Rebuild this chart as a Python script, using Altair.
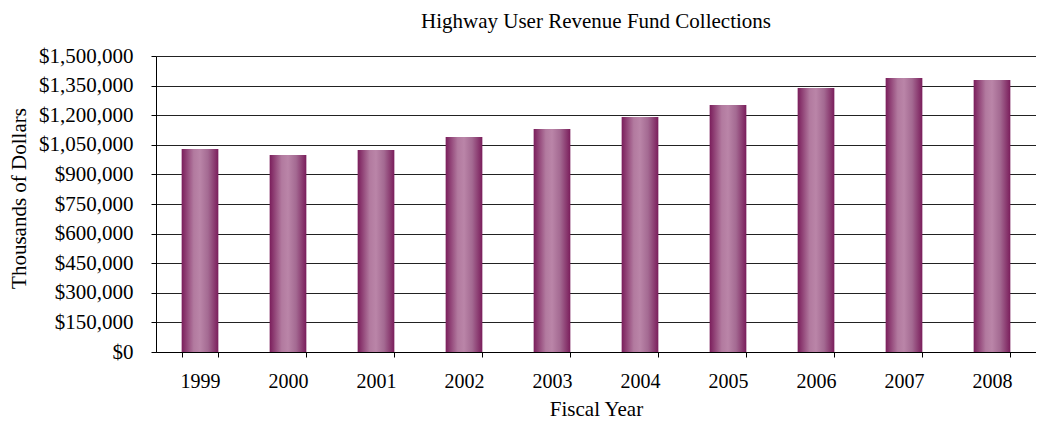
import altair as alt
import pandas as pd

years = ["1999", "2000", "2001", "2002", "2003", "2004", "2005", "2006", "2007", "2008"]
collections = [1029000, 998000, 1024000, 1090000, 1130000, 1191000, 1252000, 1338000, 1389000, 1378000]
y_ticks = [0, 150000, 300000, 450000, 600000, 750000, 900000, 1050000, 1200000, 1350000, 1500000]

df = pd.DataFrame({"year": years, "value": collections})

FONT = "Liberation Serif"

grad = alt.LinearGradient(
    gradient="linear", x1=0, x2=1, y1=0, y2=0,
    stops=[
        alt.GradientStop(color="#7A1D5B", offset=0),
        alt.GradientStop(color="#B27A9F", offset=0.33),
        alt.GradientStop(color="#BA85A8", offset=0.5),
        alt.GradientStop(color="#A46A92", offset=0.72),
        alt.GradientStop(color="#7A1D5B", offset=1),
    ],
)

chart = alt.Chart(df).mark_bar(color=grad).encode(
    x=alt.X("year:N", sort=years,
            scale=alt.Scale(paddingInner=0.583, paddingOuter=0.2915),
            axis=alt.Axis(title="Fiscal Year", labelAngle=0, tickBand="extent",
                          domainColor="black", tickColor="black", tickSize=5,
                          labelPadding=14, labelFont=FONT, labelFontSize=20,
                          labelColor="black", titleFont=FONT, titleFontSize=21,
                          titleFontWeight="normal", titleColor="black",
                          titleY=57, titleBaseline="middle")),
    y=alt.Y("value:Q", scale=alt.Scale(domain=[0, 1500000], nice=False),
            axis=alt.Axis(title="Thousands of Dollars", values=y_ticks, format="$,.0f",
                          domainColor="black", tickColor="black", tickSize=5,
                          labelPadding=18, labelFont=FONT, labelFontSize=21,
                          labelColor="black", grid=True, gridColor="#222222",
                          gridOpacity=1, gridWidth=1,
                          titleFont=FONT, titleFontSize=21, titleFontWeight="normal",
                          titleColor="black", titleX=-137, titleY=142,
                          titleAngle=-90, titleAlign="center", titleBaseline="middle")),
).properties(
    width=880,
    height=296,
    title=alt.TitleParams("Highway User Revenue Fund Collections", font=FONT,
                          fontSize=21, fontWeight="normal", color="black",
                          anchor="middle", offset=13),
    autosize=alt.AutoSizeParams(type="none"),
    padding={"left": 148, "top": 48, "right": 0, "bottom": 70},
).configure_view(stroke=None)

chart.save("out.html", embed_options={"renderer": "svg", "actions": False})
